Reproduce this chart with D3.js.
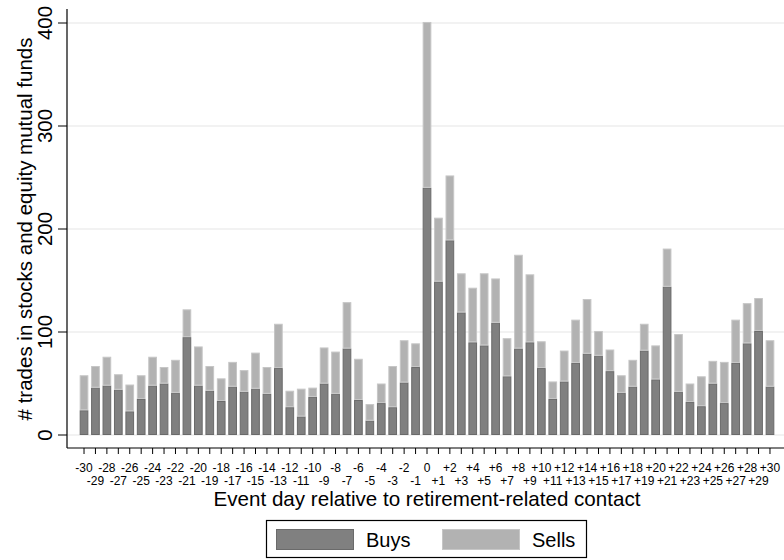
<!DOCTYPE html>
<html>
<head>
<meta charset="utf-8">
<script src="https://cdn.jsdelivr.net/npm/d3@7"></script>
<style>
  html, body { margin: 0; padding: 0; background: #fff; }
  svg text { font-family: "Liberation Sans", Arial, sans-serif; fill: #000; }
</style>
</head>
<body>
<svg id="chart" width="784" height="560"></svg>
<script>
// ---- data ----
const days = d3.range(-30, 31);
const dayLabels = days.map(d => d > 0 ? "+" + d : String(d));
const buys = [24, 46, 48, 44, 23, 35, 48, 50, 41, 95, 48, 43, 33, 47, 42, 45, 40, 65, 27, 18, 37, 50, 40, 84, 34,
              14, 31, 27, 51, 66, 240, 149, 189, 119, 90, 87, 109, 57, 84, 90, 65, 35, 52, 70, 79, 77, 62, 41, 47,
              82, 54, 144, 42, 32, 28, 50, 31, 70, 89, 101, 47];
const totals = [58, 67, 76, 59, 49, 58, 76, 66, 73, 122, 86, 67, 55, 71, 63, 80, 66, 108, 43, 45, 46, 85, 81, 129, 74,
                30, 50, 67, 92, 89, 401, 211, 252, 157, 143, 157, 152, 94, 175, 156, 91, 52, 82, 112, 132, 101, 83, 58, 73,
                108, 87, 181, 98, 50, 57, 72, 71, 112, 128, 133, 92];
const sells = totals.map((t, i) => t - buys[i]);
const seriesNames = ["Buys", "Sells"];
const yTicks = [0, 100, 200, 300, 400];

// ---- layout ----
const svg = d3.select("#chart");
const left = 67, bottomAxisY = 448;
const y = d3.scaleLinear().domain([0, 400]).range([435, 23]);
const x = d3.scaleBand().domain(dayLabels).range([78.3, 775.7]).paddingInner(0.24).paddingOuter(0.12);
const colors = { Buys: { fill: "#808080", stroke: "#6a6a6a" }, Sells: { fill: "#b2b2b2", stroke: "#c6c6c6" } };

// gridlines
svg.append("g").selectAll("line").data(yTicks).join("line")
  .attr("x1", left).attr("x2", 784)
  .attr("y1", d => y(d)).attr("y2", d => y(d))
  .attr("stroke", "#e6e6e6").attr("stroke-width", 1.2);

// stacked bars
const rows = dayLabels.map((d, i) => ({ day: d, Buys: buys[i], Sells: sells[i] }));
const stack = d3.stack().keys(seriesNames)(rows);
svg.append("g").selectAll("g").data(stack).join("g")
  .attr("fill", s => colors[s.key].fill)
  .attr("stroke", s => colors[s.key].stroke)
  .attr("stroke-width", 1)
  .selectAll("rect").data(s => s).join("rect")
  .attr("x", d => x(d.data.day) + 0.5)
  .attr("width", x.bandwidth() - 1)
  .attr("y", d => y(d[1]) + 0.5)
  .attr("height", d => Math.max(0, y(d[0]) - y(d[1]) - 1));

// y axis
const yAxis = svg.append("g").attr("transform", `translate(${left},0)`);
yAxis.append("line").attr("x1", 0).attr("x2", 0).attr("y1", 9).attr("y2", bottomAxisY)
  .attr("stroke", "#000").attr("stroke-width", 1.2);
yAxis.selectAll("line.tick").data(yTicks).join("line").attr("class", "tick")
  .attr("x1", -9).attr("x2", 0).attr("y1", d => y(d)).attr("y2", d => y(d))
  .attr("stroke", "#000").attr("stroke-width", 1);
yAxis.selectAll("text").data(yTicks).join("text")
  .attr("transform", d => `translate(-23,${y(d)}) rotate(-90)`)
  .attr("text-anchor", "middle").attr("dominant-baseline", "central")
  .style("font-size", "20.5px").text(d => d);

// y title
svg.append("text")
  .attr("transform", `translate(24,${(y(0) + y(400)) / 2}) rotate(-90)`)
  .attr("text-anchor", "middle").attr("dominant-baseline", "central")
  .style("font-size", "20.5px").text("# trades in stocks and equity mutual funds");

// x axis
const xAxis = svg.append("g").attr("transform", `translate(0,${bottomAxisY})`);
xAxis.append("line").attr("x1", left).attr("x2", 784).attr("y1", 0).attr("y2", 0)
  .attr("stroke", "#000").attr("stroke-width", 1.2);
xAxis.selectAll("line.tick").data(dayLabels).join("line").attr("class", "tick")
  .attr("x1", d => x(d) + x.bandwidth() / 2).attr("x2", d => x(d) + x.bandwidth() / 2)
  .attr("y1", 0).attr("y2", 6).attr("stroke", "#000").attr("stroke-width", 1);
xAxis.selectAll("text").data(dayLabels).join("text")
  .attr("x", d => x(d) + x.bandwidth() / 2)
  .attr("y", (d, i) => i % 2 === 0 ? 20 : 33)
  .attr("dominant-baseline", "central")
  .attr("text-anchor", "middle").style("font-size", "12px").text(d => d);

// x title
svg.append("text").attr("x", 427).attr("y", 498)
  .attr("text-anchor", "middle").attr("dominant-baseline", "central")
  .style("font-size", "20.6px").text("Event day relative to retirement-related contact");

// legend
const lg = svg.append("g");
lg.append("rect").attr("x", 266.5).attr("y", 520.5).attr("width", 320).attr("height", 37)
  .attr("fill", "#fff").attr("stroke", "#000").attr("stroke-width", 1.2);
const legendX = { Buys: 276, Sells: 442 };
seriesNames.forEach(k => {
  lg.append("rect").attr("x", legendX[k] + 0.5).attr("y", 529.5).attr("width", 77).attr("height", 20)
    .attr("fill", colors[k].fill).attr("stroke", colors[k].stroke);
  lg.append("text").attr("x", legendX[k] + 90).attr("y", 540)
    .attr("dominant-baseline", "central").style("font-size", "20px").text(k);
});
</script>
</body>
</html>
